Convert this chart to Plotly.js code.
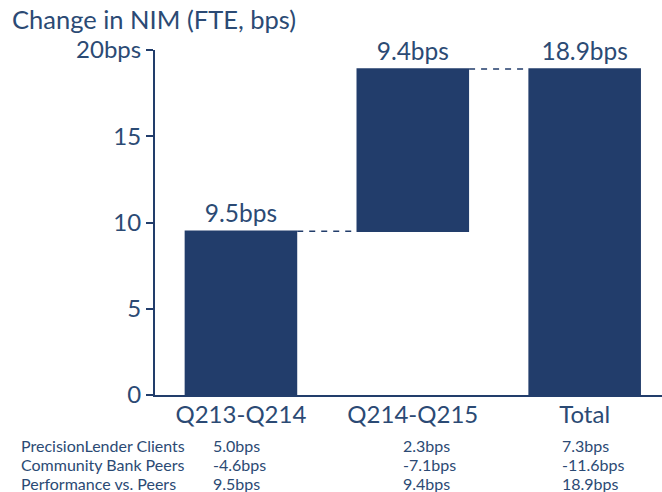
<!DOCTYPE html>
<html>
<head>
<meta charset="utf-8">
<script src="https://cdn.plot.ly/plotly-3.0.1.min.js"></script>
<style>html,body{margin:0;padding:0;background:#fff;}#chart{width:662px;height:492px;}</style>
</head>
<body>
<div id="chart"></div>
<script>
var categories = ['Q213-Q214', 'Q214-Q215', 'Total'];
var measures = ['relative', 'relative', 'total'];
var changeValues = [9.5, 9.4, 18.9];
var barLabels = ['9.5bps', '9.4bps', '18.9bps'];
var yTickVals = [0, 5, 10, 15, 20];
var yTickText = ['0', '5', '10', '15', '20bps'];
var rowLabels = ['PrecisionLender Clients', 'Community Bank Peers', 'Performance vs. Peers'];
var clientsValues = ['5.0bps', '2.3bps', '7.3bps'];
var peersValues = ['-4.6bps', '-7.1bps', '-11.6bps'];
var performanceValues = ['9.5bps', '9.4bps', '18.9bps'];

var navy = '#223d6b';
var textColor = '#2b4a74';
var FONT = 'Lato, "Open Sans", sans-serif';

var trace = {
  type: 'waterfall',
  x: categories,
  y: changeValues,
  measure: measures,
  text: barLabels,
  textposition: 'outside',
  textfont: {family: FONT, size: 24.5, color: textColor},
  cliponaxis: false,
  width: 0.655,
  increasing: {marker: {color: navy}},
  decreasing: {marker: {color: navy}},
  totals: {marker: {color: navy}},
  connector: {mode: 'between', line: {color: navy, width: 1.5, dash: '6px,6px'}},
  hoverinfo: 'skip'
};

var annotations = [];
var colPx = [19, 211, 401, 560];
var rowPy = [445, 464, 483];
var plotL = 155, plotW = 507, plotT = 50, plotH = 345;
function px2x(p) { return (p - plotL) / plotW; }
function py2y(p) { return 1 - (p - plotT) / plotH; }
var rows = [clientsValues, peersValues, performanceValues];
for (var r = 0; r < rowLabels.length; r++) {
  var cells = [rowLabels[r]].concat(rows[r]);
  for (var c = 0; c < cells.length; c++) {
    annotations.push({
      xref: 'paper', yref: 'paper',
      x: px2x(colPx[c]), y: py2y(rowPy[r]),
      xanchor: 'left', yanchor: 'middle',
      text: cells[c], showarrow: false,
      font: {family: FONT, size: 16, color: textColor}
    });
  }
}

var layout = {
  width: 662, height: 492,
  margin: {l: plotL, r: 0, t: plotT, b: 492 - plotT - plotH},
  paper_bgcolor: '#fff', plot_bgcolor: '#fff',
  showlegend: false,
  title: {text: 'Change in NIM (FTE, bps)', x: 0, xref: 'container', xanchor: 'left', y: 1, yref: 'container', yanchor: 'top',
    pad: {t: 11, l: 12}, font: {family: FONT, size: 25.5, color: textColor}},
  xaxis: {
    type: 'category', range: [-0.5, 2.45],
    showline: true, linecolor: navy, linewidth: 2,
    ticks: '', showgrid: false, zeroline: false,
    ticklabelstandoff: -3,
    tickfont: {family: FONT, size: 24, color: textColor}
  },
  yaxis: {
    range: [0, 20], tickvals: yTickVals, ticktext: yTickText,
    showline: true, linecolor: navy, linewidth: 2,
    ticks: 'outside', ticklen: 7, tickwidth: 2, tickcolor: navy,
    showgrid: false, zeroline: false,
    tickfont: {family: FONT, size: 24, color: textColor}
  },
  annotations: annotations
};
Plotly.newPlot('chart', [trace], layout, {displayModeBar: false, staticPlot: true});
</script>
</body>
</html>
